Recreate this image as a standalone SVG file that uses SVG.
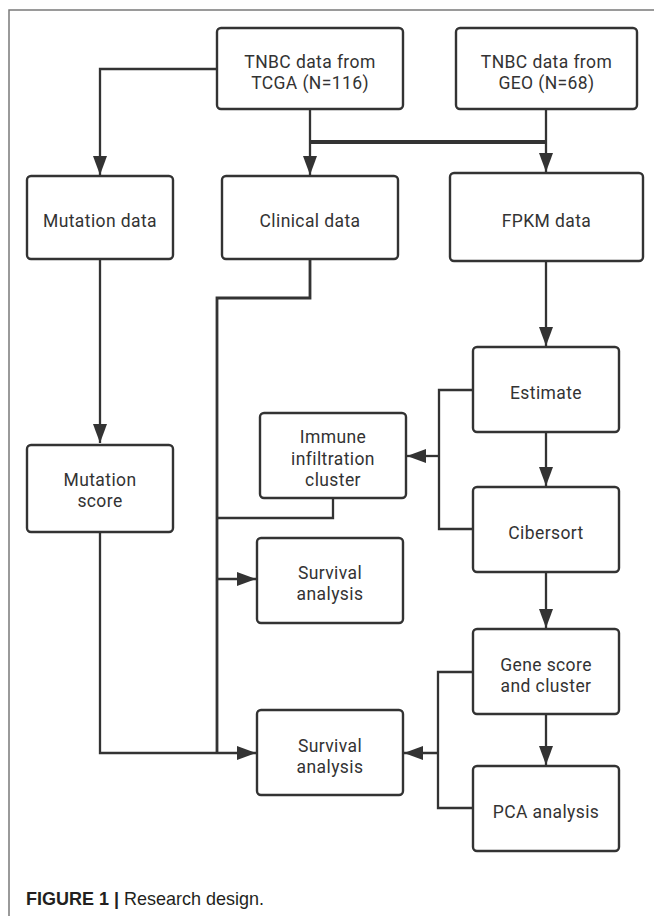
<svg xmlns="http://www.w3.org/2000/svg" width="654" height="916" viewBox="0 0 654 916">
<style>
.box{fill:#fff;stroke:#333;stroke-width:2.4}
.t{font-family:Roboto,"Open Sans",sans-serif;font-size:17.5px;letter-spacing:0.4px;fill:#333;text-anchor:middle}
.ln{fill:none;stroke:#333;stroke-width:2.3}
.cap{font-family:"Liberation Sans",Arial,sans-serif;font-size:19px;fill:#231f20}
</style>
<defs>
<marker id="ah" markerWidth="19" markerHeight="14" refX="19" refY="7" orient="auto" markerUnits="userSpaceOnUse">
<path d="M0,0 L19,7 L0,14 Z" fill="#333"/>
</marker>
</defs>
<rect width="654" height="916" fill="#fff"/>
<g id="frame">
<path d="M9,916 V10 H654" fill="none" stroke="#7a7a7a" stroke-width="1.5"/>
</g>
<g id="connectors">
<path class="ln" d="M217,69 H100 V175" marker-end="url(#ah)"/>
<path class="ln" d="M310,109 V175" marker-end="url(#ah)"/>
<path class="ln" d="M546,109 V172" marker-end="url(#ah)"/>
<path d="M310,142 H546" stroke="#333" stroke-width="4" fill="none"/>
<path class="ln" d="M100,259 V443" marker-end="url(#ah)"/>
<path class="ln" d="M310,259 V298 H217 V753" style="stroke-width:2.8"/>
<path class="ln" d="M217,579 H256" marker-end="url(#ah)"/>
<path class="ln" d="M333,498 V518 H217"/>
<path class="ln" d="M100,532 V753 H256" marker-end="url(#ah)"/>
<path class="ln" d="M546,261 V346" marker-end="url(#ah)"/>
<path class="ln" d="M473,390 H439 V529 H473"/>
<path class="ln" d="M439,456 H407" marker-end="url(#ah)"/>
<path class="ln" d="M546,432 V486" marker-end="url(#ah)"/>
<path class="ln" d="M546,572 V628" marker-end="url(#ah)"/>
<path class="ln" d="M546,714 V765" marker-end="url(#ah)"/>
<path class="ln" d="M473,672 H438 V808 H473"/>
<path class="ln" d="M438,753 H404" marker-end="url(#ah)"/>
</g>
<g id="tcga"><rect class="box" x="217" y="28" width="186" height="81" rx="4"/>
<text class="t" x="310" y="68">TNBC data from<tspan x="310" dy="21">TCGA (N=116)</tspan></text></g>
<g id="geo"><rect class="box" x="456" y="28" width="181" height="81" rx="4"/>
<text class="t" x="546.5" y="68">TNBC data from<tspan x="546.5" dy="21">GEO (N=68)</tspan></text></g>
<g id="mutation-data"><rect class="box" x="27" y="176" width="146" height="83" rx="4"/>
<text class="t" x="100" y="227">Mutation data</text></g>
<g id="clinical-data"><rect class="box" x="222" y="176" width="176" height="83" rx="4"/>
<text class="t" x="310" y="227">Clinical data</text></g>
<g id="fpkm-data"><rect class="box" x="450" y="173" width="193" height="88" rx="4"/>
<text class="t" x="546.5" y="227">FPKM data</text></g>
<g id="estimate"><rect class="box" x="473" y="347" width="146" height="85" rx="4"/>
<text class="t" x="546" y="399">Estimate</text></g>
<g id="immune"><rect class="box" x="260" y="413" width="146" height="85" rx="4"/>
<text class="t" x="333" y="443">Immune<tspan x="333" dy="21.5">infiltration</tspan><tspan x="333" dy="21.5">cluster</tspan></text></g>
<g id="cibersort"><rect class="box" x="473" y="487" width="146" height="85" rx="4"/>
<text class="t" x="546" y="539">Cibersort</text></g>
<g id="survival1"><rect class="box" x="257" y="538" width="146" height="85" rx="4"/>
<text class="t" x="330" y="579">Survival<tspan x="330" dy="21">analysis</tspan></text></g>
<g id="mutation-score"><rect class="box" x="27" y="445" width="146" height="87" rx="4"/>
<text class="t" x="100" y="486">Mutation<tspan x="100" dy="21">score</tspan></text></g>
<g id="gene-score"><rect class="box" x="473" y="629" width="146" height="85" rx="4"/>
<text class="t" x="546" y="671">Gene score<tspan x="546" dy="21">and cluster</tspan></text></g>
<g id="survival2"><rect class="box" x="257" y="710" width="146" height="85" rx="4"/>
<text class="t" x="330" y="752">Survival<tspan x="330" dy="21">analysis</tspan></text></g>
<g id="pca"><rect class="box" x="473" y="766" width="146" height="85" rx="4"/>
<text class="t" x="546" y="818">PCA analysis</text></g>
<g id="caption">
<text class="cap" x="26" y="905" textLength="238" lengthAdjust="spacingAndGlyphs"><tspan font-weight="bold">FIGURE 1 | </tspan>Research design.</text>
</g>
</svg>
